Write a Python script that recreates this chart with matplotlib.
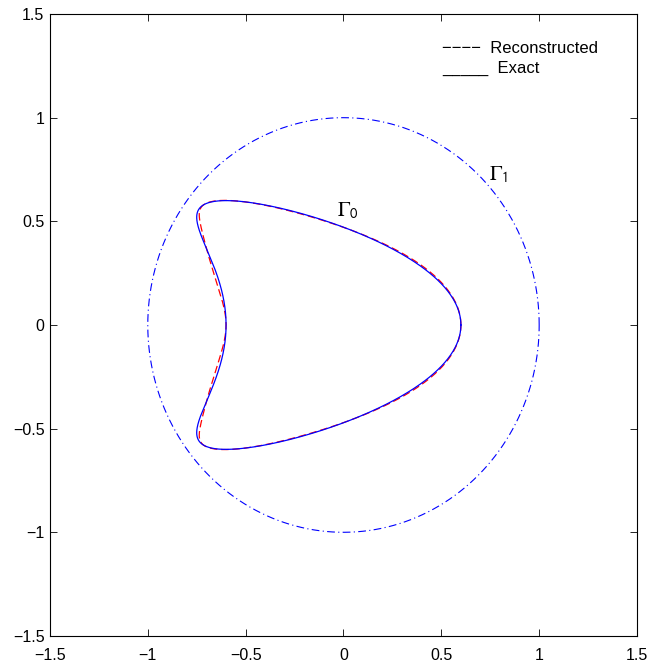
import matplotlib
matplotlib.use("Agg")
import matplotlib.pyplot as plt
import numpy as np

# Fourier coefficients of the boundary curves: x = sum a_k cos(kt), y = sum b_k sin(kt)
exact_x_cos = [-0.3, 0.6, 0.3]
exact_y_sin = [0.0, 0.6, 0.0]

recon_x_cos = [-0.300, 0.600, 0.304, 0.006, -0.007, -0.004, 0.003, -0.002]
recon_y_sin = [0.0, 0.597, 0.006, -0.007, 0.007, -0.005, 0.004, -0.002]

# outer boundary Gamma_1 (unit circle)
outer_x_cos = [0.0, 1.0]
outer_y_sin = [0.0, 1.0]

ticks = [-1.5, -1, -0.5, 0, 0.5, 1, 1.5]
tick_labels = ["\u22121.5", "\u22121", "\u22120.5", "0", "0.5", "1", "1.5"]


def curve(xc, ys, n=800):
    t = np.linspace(0, 2 * np.pi, n)
    x = sum(a * np.cos(k * t) for k, a in enumerate(xc))
    y = sum(b * np.sin(k * t) for k, b in enumerate(ys))
    return x, y


plt.rcParams["font.family"] = ["Liberation Sans", "DejaVu Sans"]
plt.rcParams["mathtext.fontset"] = "stix"

fig = plt.figure(figsize=(6.57, 6.68), dpi=100)
ax = fig.add_axes([0.076, 0.048, 0.8936, 0.931])

xr, yr = curve(recon_x_cos, recon_y_sin)
ax.plot(xr, yr, color="red", linestyle=(0, (6, 3)), linewidth=0.9)

xe, ye = curve(exact_x_cos, exact_y_sin)
ax.plot(xe, ye, color="blue", linewidth=0.9)

xo, yo = curve(outer_x_cos, outer_y_sin)
ax.plot(xo, yo, color="blue", linestyle=(0, (7, 3, 1, 3)), linewidth=0.8)

ax.text(-0.035, 0.525, r"$\Gamma_{\mathsf{0}}$", fontsize=15)
ax.text(0.745, 0.70, r"$\Gamma_{\mathsf{1}}$", fontsize=15)

ax.text(0.505, 1.335, "\u2212\u2212\u2212\u2212  Reconstructed", fontsize=12, va="center")
ax.text(0.505, 1.238, "_____  Exact", fontsize=12, va="center")

ax.set_xlim(-1.5, 1.5)
ax.set_ylim(-1.5, 1.5)
ax.set_xticks(ticks)
ax.set_xticklabels(tick_labels)
ax.set_yticks(ticks)
ax.set_yticklabels(tick_labels)
ax.tick_params(direction="in", top=True, right=True, length=5, width=0.6,
               labelsize=11.5)
ax.tick_params(axis="x", pad=9)
ax.tick_params(axis="y", pad=4)
for s in ax.spines.values():
    s.set_linewidth(0.8)

fig.savefig("out.png", dpi=100)
